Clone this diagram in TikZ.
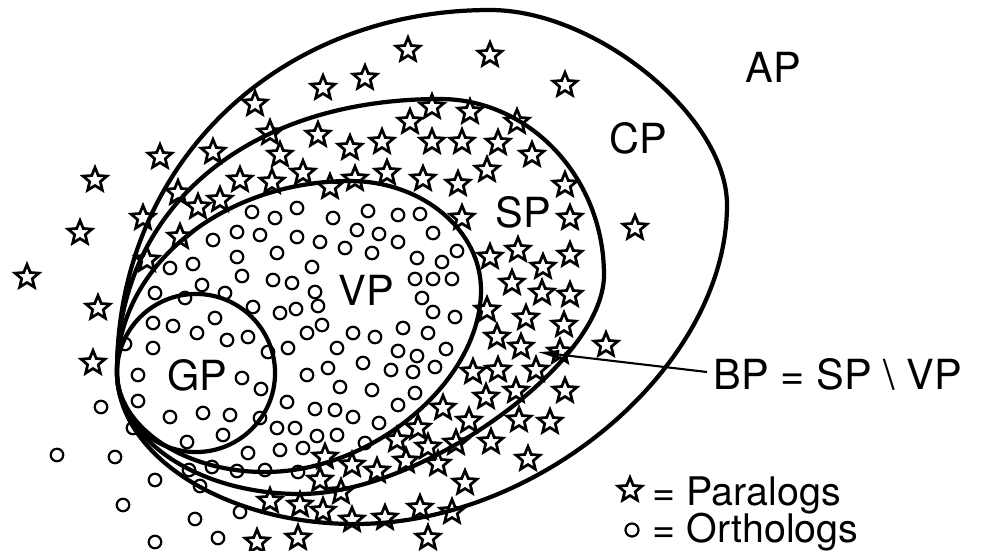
\documentclass[tikz,border=0pt]{standalone}
\usepackage{fontspec}
\setmainfont{TeX Gyre Heros}
\usetikzlibrary{shapes.geometric,arrows.meta}

\begin{document}
\begin{tikzpicture}[x=0.01cm,y=-0.01cm,
  region/.style={line width=1.2pt},
  para/.style={star, star points=5, star point ratio=2.25, draw, line width=0.78pt,
               inner sep=0pt, outer sep=0pt, minimum size=0.25cm},
  ortho/.style={circle, draw, line width=0.62pt, inner sep=0pt, outer sep=0pt,
                minimum size=0.125cm},
  lbl/.style={inner sep=0pt, anchor=base west, font=\fontsize{11.8pt}{14pt}\selectfont},
  keytext/.style={inner sep=0pt, anchor=base west, font=\fontsize{11.2pt}{13pt}\selectfont},
  pointer/.style={line width=0.6pt, -{Latex[length=0.22cm,width=0.1cm]}}]

\useasboundingbox (0,0) rectangle (996,551);

% nested sets, all touching at the left
\draw[region] (117,372) .. controls (117,165) and (277,10) .. (490,10)
  .. controls (597,10) and (727,117) .. (727,205)
  .. controls (727,365) and (541,524) .. (355,524)
  .. controls (224,524) and (117,455) .. cycle;
\draw[region] (117,372) .. controls (117,209) and (246,99) .. (440,99)
  .. controls (530,99) and (604,178) .. (604,275)
  .. controls (604,363) and (422,494) .. (300,494)
  .. controls (199,494) and (117,440) .. cycle;
\draw[region] (117,372) .. controls (117,267) and (222,181) .. (350,181)
  .. controls (422,181) and (481,230) .. (481,290)
  .. controls (481,381) and (373,472) .. (265,472)
  .. controls (184,472) and (117,427) .. cycle;
\draw[region] (196,373) circle [radius=0.79cm];

% paralogs
\foreach \x/\y [count=\i] in {
  408/50, 490/55, 365/78, 323/88, 255/104, 565/85, 160/157, 213/152, 95/180,
  80/233, 27/277, 98/308, 93/363, 635/228, 143/218, 147/260, 606/345,
  432/107, 470/112, 517/122, 410/122, 270/133, 318/135, 382/142, 432/142,
  462/142, 498/143, 350/148, 280/155, 532/155, 303/173, 387/173, 487/170,
  240/180, 272/182, 355/179, 330/187, 423/179, 458/184, 565/185, 178/193,
  198/207, 220/200, 462/218, 570/218, 180/237, 490/257, 518/250, 543/267,
  570/255, 512/283, 542/293, 570/295, 487/310, 526/318, 564/325, 497/337,
  521/347, 560/352, 473/372, 498/370, 536/370, 486/397, 516/391, 565/391,
  443/408, 469/421, 519/420, 550/422, 418/428, 397/440, 428/447, 456/443,
  491/442, 406/461, 438/464, 528/459, 465/483, 452/512, 325/457, 352/465,
  377/471, 320/480, 341/492, 270/501, 300/505, 323/511, 352/520, 385/518,
  420/508, 257/542, 298/538, 428/538}
  \node[para] (s\i) at (\x,\y) {};

% orthologs
\foreach \x/\y [count=\i] in {
  252/212, 275/218, 297/208, 333/218, 368/211, 398/215, 420/214,
  213/240, 237/232, 260/235, 297/237, 320/242, 357/230, 379/234, 398/242, 433/233,
  237/257, 277/253, 345/248, 372/253, 417/258, 442/262, 457/251, 170/268, 193/264, 312/267,
  242/276, 273/280, 292/283, 315/292, 415/279, 433/279, 452/279, 155/293, 185/298,
  202/285, 225/293, 422/298,
  253/307, 280/313, 296/309, 318/306, 433/312, 455/317, 153/323, 173/326, 215/318,
  197/333, 248/337, 227/340, 307/333, 322/325, 353/333, 375/337, 403/328, 428/333,
  446/349, 125/344, 153/348, 268/352, 288/348, 337/348, 398/351, 417/356,
  435/367, 363/363, 328/368, 391/370, 413/372, 138/375, 242/378, 261/389, 307/375,
  340/387, 372/390, 415/393,
  101/407, 138/401, 287/402, 315/409, 335/410, 353/417, 398/405, 170/417, 203/413,
  230/415, 260/418,
  133/428, 277/428, 295/428, 317/436, 337/435, 379/423, 223/435, 187/442, 365/443,
  57/455, 115/457, 248/453, 280/450, 303/448, 212/467, 237/471, 265/470, 298/472, 189/470,
  200/486, 155/480, 123/505, 195/519, 240/512, 155/542, 218/538}
  \node[ortho] (o\i) at (\x,\y) {};

% set names
\node[lbl] (ap) at (745,82) {AP};
\node[lbl] (cp) at (609,153) {CP};
\node[lbl] (sp) at (495,227) {SP};
\node[lbl] (vp) at (338,305) {VP};
\node[lbl] (gp) at (167,390) {GP};
\node[lbl] (bp) at (713,389) {BP = SP \textbackslash\ VP};

% pointer to the band between SP and VP
\coordinate (bptail) at (707,372);
\coordinate (bphead) at (537,352);
\draw[pointer] (bptail) -- (bphead);

% key
\node[para] (keystar) at (630,490) {};
\node[keytext] (keypara) at (652,505) {= Paralogs};
\node[ortho, minimum size=0.13cm] (keycirc) at (632,530) {};
\node[keytext] (keyortho) at (652,542) {= Orthologs};
\end{tikzpicture}
\end{document}
